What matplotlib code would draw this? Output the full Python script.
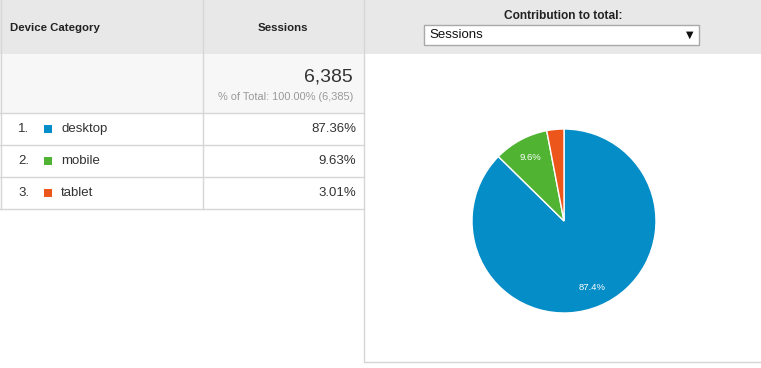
import matplotlib.pyplot as plt
from matplotlib.patches import Rectangle

plt.rcParams['font.family'] = ['Liberation Sans', 'DejaVu Sans']

categories = ['desktop', 'mobile', 'tablet']
shares = [87.36, 9.63, 3.01]
share_labels = ['87.36%', '9.63%', '3.01%']
colors = ['#058dc7', '#50b432', '#ed561b']
total_sessions = '6,385'
total_note = '% of Total: 100.00% (6,385)'

W, H = 761, 368
fig = plt.figure(figsize=(W / 100, H / 100), dpi=100)
ax = fig.add_axes([0, 0, 1, 1])
ax.set_xlim(0, W)
ax.set_ylim(H, 0)
ax.axis('off')

line = '#d6d6d6'
# header band
ax.add_patch(Rectangle((0, 0), W, 54, color='#e8e8e8', lw=0))
# totals row
ax.add_patch(Rectangle((0, 54), 364, 59, color='#f7f7f7', lw=0))

ax.plot([203, 203], [0, 209], color=line, lw=1)
ax.plot([364, 364], [0, 362], color=line, lw=1)
ax.plot([1, 1], [0, 209], color=line, lw=1)
ax.plot([365, W], [362, 362], color=line, lw=1)
for y in [113, 145, 177, 209]:
    ax.plot([0, 364], [y, y], color=line, lw=1)

ax.text(10, 28, 'Device Category', fontsize=8.2, fontweight='bold', va='center', color='#222222')
ax.text(283, 28, 'Sessions', fontsize=8.2, fontweight='bold', va='center', ha='center', color='#222222')
ax.text(353, 77, total_sessions, fontsize=14, va='center', ha='right', color='#333333')
ax.text(353, 97, total_note, fontsize=7.9, va='center', ha='right', color='#999999')

for i, (cat, lab, c) in enumerate(zip(categories, share_labels, colors)):
    yc = 129 + 32 * i
    ax.text(18, yc, f'{i + 1}.', fontsize=9.5, va='center', color='#333333')
    ax.add_patch(Rectangle((44, yc - 4), 8, 8, color=c, lw=0))
    ax.text(61, yc, cat, fontsize=9.5, va='center', color='#333333')
    ax.text(356, yc, lab, fontsize=9.5, va='center', ha='right', color='#333333')

# dropdown
ax.text(563, 16, 'Contribution to total:', fontsize=8.6, fontweight='bold', va='center', ha='center', color='#222222')
ax.add_patch(Rectangle((424, 25), 275, 20, facecolor='white', edgecolor='#a9a9a9', lw=1))
ax.text(429, 35.5, 'Sessions', fontsize=9.5, va='center', color='#111111')
ax.text(690, 35, '▼', fontsize=7, va='center', ha='center', color='#111111', family='DejaVu Sans')

# pie
r = 92
cx, cy = 564, 221
pax = fig.add_axes([(cx - r) / W, (H - cy - r) / H, 2 * r / W, 2 * r / H])
pax.pie(shares, colors=colors, startangle=90, counterclock=False,
        autopct=lambda p: f'{p:.1f}%' if p > 5 else '', pctdistance=0.78,
        wedgeprops=dict(edgecolor='white', linewidth=1),
        textprops=dict(color='white', fontsize=6.8))
pax.set_xlim(-1, 1)
pax.set_ylim(-1, 1)

fig.savefig('out.png', dpi=100)
